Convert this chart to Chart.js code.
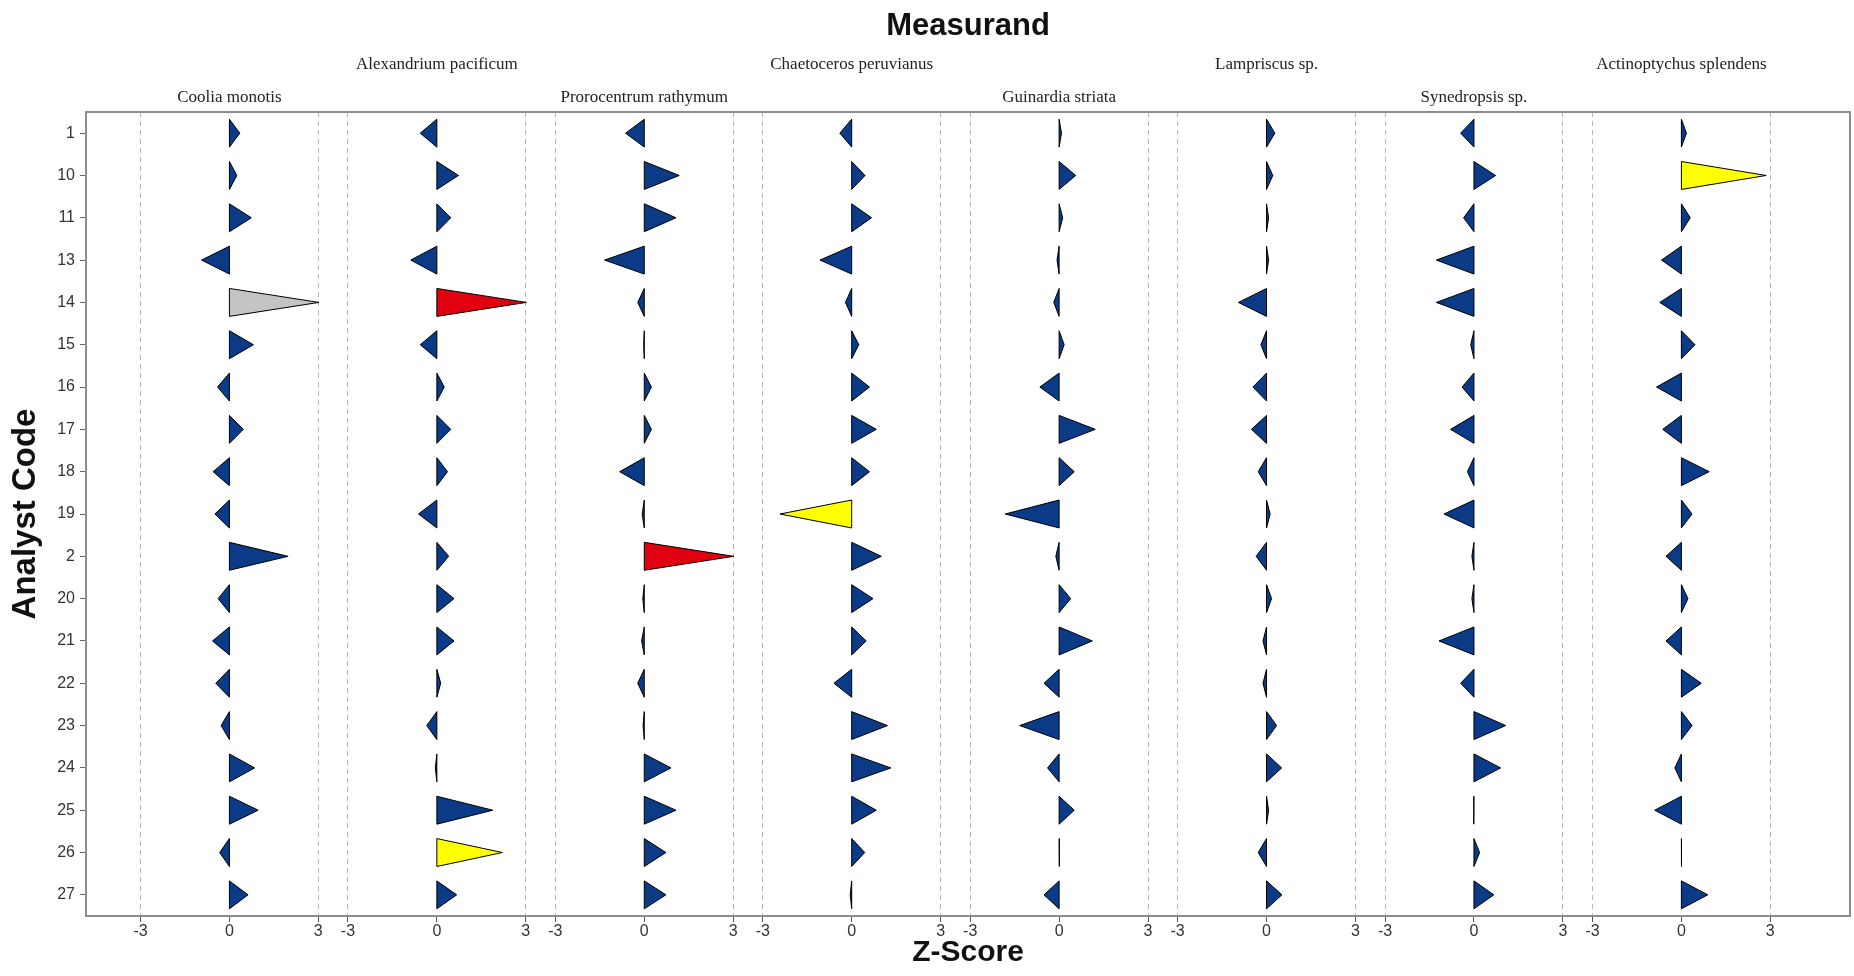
<!DOCTYPE html>
<html>
<head>
<meta charset="utf-8">
<script src="https://cdn.jsdelivr.net/npm/chart.js@4.4.1/dist/chart.umd.min.js"></script>
<style>
html,body{margin:0;padding:0;background:#ffffff;}
canvas{display:block;}
</style>
</head>
<body>
<canvas id="c" width="1854" height="976"></canvas>
<script>
// ---------- data ----------
const analystCodes = ['1','10','11','13','14','15','16','17','18','19','2','20','21','22','23','24','25','26','27'];
const measurands = ['Coolia monotis','Alexandrium pacificum','Prorocentrum rathymum','Chaetoceros peruvianus',
                    'Guinardia striata','Lampriscus sp.','Synedropsis sp.','Actinoptychus splendens'];
const zCoolia      = [0.35, 0.25, 0.74,-0.94, 3.02, 0.81,-0.40, 0.47,-0.55,-0.49, 1.98,-0.38,-0.57,-0.46,-0.28, 0.85, 0.97,-0.33, 0.63];
const zAlexandrium = [-0.56, 0.73, 0.47,-0.88, 3.02,-0.56, 0.25, 0.47, 0.36,-0.62, 0.40, 0.58, 0.58, 0.13,-0.34,-0.05, 1.89, 2.21, 0.67];
const zProrocentrum= [-0.63, 1.18, 1.07,-1.34,-0.22,-0.02, 0.24, 0.24,-0.83,-0.07, 3.02,-0.05,-0.09,-0.22,-0.04, 0.90, 1.07, 0.73, 0.73];
const zChaetoceros = [-0.40, 0.45, 0.67,-1.07,-0.21, 0.24, 0.60, 0.83, 0.60,-2.42, 1.00, 0.72, 0.49,-0.60, 1.21, 1.32, 0.83, 0.44,-0.05];
const zGuinardia   = [0.08, 0.56, 0.12,-0.07,-0.18, 0.17,-0.65, 1.22, 0.51,-1.82,-0.11, 0.39, 1.12,-0.51,-1.33,-0.39, 0.51, 0.02,-0.51];
const zLampriscus  = [0.28, 0.21, 0.07, 0.07,-0.95,-0.19,-0.46,-0.51,-0.28, 0.12,-0.35, 0.17,-0.12,-0.12, 0.34, 0.51, 0.07,-0.28, 0.52];
const zSynedropsis = [-0.45, 0.73,-0.35,-1.27,-1.27,-0.11,-0.40,-0.79,-0.22,-1.01,-0.07,-0.07,-1.18,-0.45, 1.07, 0.90,-0.02, 0.19, 0.67];
const zActinoptychus=[0.17, 2.86, 0.30,-0.67,-0.73, 0.46,-0.84,-0.63, 0.94, 0.36,-0.52, 0.22,-0.52, 0.67, 0.36,-0.22,-0.90, 0.01, 0.89];
const zTicks = [-3, 0, 3];
const excludedResults = [['Coolia monotis','14']];

const zSeries = [zCoolia, zAlexandrium, zProrocentrum, zChaetoceros, zGuinardia, zLampriscus, zSynedropsis, zActinoptychus];

// ---------- layout / style ----------
const PANEL = 7;          // x-units per panel
const HALF = 0.33;        // half height of a triangle (in rows)
const X_MIN = -4.84, X_MAX = 54.69;
const BLUE = '#0b3a86', RED = '#e0000f', YELLOW = '#ffff00', GRAY = '#c4c4c4';

function colorFor(name, code, z){
  if (excludedResults.some(e => e[0] === name && e[1] === code)) return GRAY;
  const a = Math.abs(z);
  if (a >= 3) return RED;
  if (a >= 2) return YELLOW;
  return BLUE;
}

const datasets = [];
zSeries.forEach((vals, p) => {
  const c = p * PANEL;
  vals.forEach((z, i) => {
    datasets.push({
      data: [{x:c, y:i-HALF}, {x:c+z, y:i}, {x:c, y:i+HALF}, {x:c, y:i-HALF}],
      fill: 'shape',
      backgroundColor: colorFor(measurands[p], analystCodes[i], z),
      borderColor: '#000000',
      borderWidth: 1,
      pointRadius: 0,
      tension: 0,
      xAxisID: 'x',
      yAxisID: 'y'
    });
  });
});

const bottomTicks = [];
measurands.forEach((m, p) => zTicks.forEach(t => bottomTicks.push(p * PANEL + t)));
const panelOf = v => Math.round(v / PANEL);

const serif = "'Liberation Serif','Times New Roman',serif";
const narrow = "'Liberation Sans Narrow','Arial Narrow','Liberation Sans',sans-serif";
const sans = "'Liberation Sans',Arial,sans-serif";

new Chart(document.getElementById('c'), {
  type: 'line',
  data: { datasets },
  options: {
    responsive: false,
    animation: false,
    events: [],
    layout: { padding: { left: 0, right: 0, top: 0, bottom: 0 } },
    plugins: { legend: { display: false }, tooltip: { enabled: false } },
    scales: {
      x: {
        type: 'linear', position: 'bottom', min: X_MIN, max: X_MAX,
        afterBuildTicks: s => { s.ticks = bottomTicks.map(v => ({ value: v })); },
        afterFit: s => { s.height = 60; },
        ticks: {
          autoSkip: false, maxRotation: 0, minRotation: 0, padding: 0,
          color: '#333', font: { family: narrow, size: 16 },
          callback: v => String(Math.round(v - panelOf(v) * PANEL))
        },
        grid: {
          display: true, drawOnChartArea: true, drawTicks: true, tickLength: 6,
          tickColor: '#555', lineWidth: 1,
          color: ctx => (ctx.tick && Math.abs(ctx.tick.value - panelOf(ctx.tick.value) * PANEL) < 0.01) ? 'rgba(0,0,0,0)' : '#b8b8b8'
        },
        border: { display: true, color: '#8c8c8c', width: 2, dash: [5, 4] },
        title: {
          display: true, text: 'Z-Score', color: '#111',
          font: { family: narrow, size: 30, weight: 'bold' },
          padding: { top: 0, bottom: 5 }
        }
      },
      x2: {
        type: 'linear', position: 'top', weight: 2, min: X_MIN, max: X_MAX,
        afterBuildTicks: s => { s.ticks = measurands.map((m, p) => p).filter(p => p % 2 === 1).map(p => ({ value: p * PANEL })); },
        afterFit: s => { s.height = 79; },
        ticks: {
          autoSkip: false, maxRotation: 0, minRotation: 0, padding: 4,
          color: '#222', font: { family: serif, size: 17 },
          callback: v => measurands[panelOf(v)]
        },
        grid: { display: true, drawOnChartArea: false, drawTicks: false },
        border: { display: false },
        title: {
          display: true, text: 'Measurand', color: '#111',
          font: { family: narrow, size: 31, weight: 'bold' },
          padding: { top: 8, bottom: 0 }
        }
      },
      x3: {
        type: 'linear', position: 'top', weight: 1, min: X_MIN, max: X_MAX,
        afterBuildTicks: s => { s.ticks = measurands.map((m, p) => p).filter(p => p % 2 === 0).map(p => ({ value: p * PANEL })); },
        afterFit: s => { s.height = 33; },
        ticks: {
          autoSkip: false, maxRotation: 0, minRotation: 0, padding: 4,
          color: '#222', font: { family: serif, size: 17 },
          callback: v => measurands[panelOf(v)]
        },
        grid: { display: true, drawOnChartArea: false, drawTicks: false },
        border: { display: true, color: '#8c8c8c', width: 2 }
      },
      y: {
        type: 'linear', position: 'left', reverse: true, min: -0.5, max: 18.5,
        afterBuildTicks: s => { s.ticks = analystCodes.map((c, i) => ({ value: i })); },
        afterFit: s => { s.width = 86; },
        ticks: {
          autoSkip: false, padding: 5, color: '#333',
          font: { family: sans, size: 16 },
          callback: v => analystCodes[v]
        },
        grid: { display: true, drawOnChartArea: false, drawTicks: true, tickLength: 6, tickColor: '#666' },
        border: { display: true, color: '#8c8c8c', width: 2 },
        title: {
          display: true, text: 'Analyst Code', color: '#111',
          font: { family: sans, size: 33, weight: 'bold' },
          padding: { top: 6, bottom: 0 }
        }
      },
      y2: {
        type: 'linear', position: 'right', min: -0.5, max: 18.5,
        afterFit: s => { s.width = 4; },
        ticks: { display: false },
        grid: { display: true, drawOnChartArea: false, drawTicks: false },
        border: { display: true, color: '#8c8c8c', width: 2 }
      }
    }
  }
});
</script>
</body>
</html>
